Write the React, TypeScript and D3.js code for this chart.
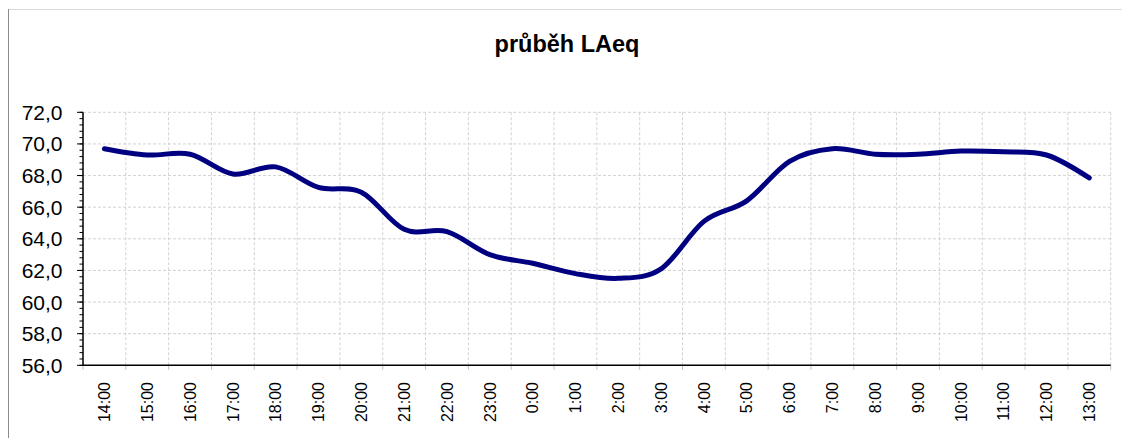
import React from "react";
import * as d3 from "d3";

const title = "průběh LAeq";
const categories = [
  "14:00", "15:00", "16:00", "17:00", "18:00", "19:00", "20:00", "21:00",
  "22:00", "23:00", "0:00", "1:00", "2:00", "3:00", "4:00", "5:00",
  "6:00", "7:00", "8:00", "9:00", "10:00", "11:00", "12:00", "13:00",
];
const laeq = [
  69.7, 69.3, 69.35, 68.1, 68.55, 67.25, 66.95, 64.6,
  64.45, 63.0, 62.45, 61.8, 61.5, 62.1, 65.1, 66.4,
  68.9, 69.7, 69.35, 69.35, 69.55, 69.5, 69.3, 67.85,
];
const yTicks = [56, 58, 60, 62, 64, 66, 68, 70, 72];
const yDomain = [56, 72];

const W = 1122;
const H = 438;
const plot = { left: 83, right: 1110.7, top: 112.3, bottom: 365.3 };

export default function App() {
  const x = d3
    .scaleBand<string>()
    .domain(categories)
    .range([plot.left, plot.right])
    .paddingInner(0)
    .paddingOuter(0);
  const y = d3.scaleLinear().domain(yDomain).range([plot.bottom, plot.top]);
  const bw = x.bandwidth();

  const line = d3
    .line<number>()
    .x((_, i) => (x(categories[i]) as number) + bw / 2)
    .y((d) => y(d))
    .curve(d3.curveCardinal.tension(0));

  const minorTicks = d3.range(yDomain[0], yDomain[1] + 0.001, 0.4);
  const boundaries = categories.map((c) => x(c) as number).concat([plot.right]);
  const fmt = (v: number) => v.toFixed(1).replace(".", ",");

  return (
    <svg
      width={W}
      height={H}
      style={{ position: "absolute", left: 0, top: 0, background: "#fff" }}
      fontFamily="Arial, 'Liberation Sans', sans-serif"
    >
      <rect x={0} y={0} width={W} height={H} fill="#fff" />
      {/* chart frame */}
      <line x1={8} y1={9.5} x2={W} y2={9.5} stroke="#d9d9d9" strokeWidth={1} />
      <line x1={8.5} y1={9} x2={8.5} y2={H} stroke="#8c8c8c" strokeWidth={1} />

      {/* title */}
      <text x={567} y={51.5} textAnchor="middle" fontSize={23.5} fontWeight="bold" fill="#000">
        {title}
      </text>

      {/* horizontal gridlines */}
      {yTicks.map((t) => (
        <line
          key={"hg" + t}
          x1={plot.left}
          x2={plot.right}
          y1={y(t)}
          y2={y(t)}
          stroke="#d2d2d2"
          strokeWidth={1}
          strokeDasharray="3,2"
        />
      ))}
      {/* vertical gridlines */}
      {boundaries.map((bx, i) => (
        <line
          key={"vg" + i}
          x1={bx}
          x2={bx}
          y1={plot.top}
          y2={plot.bottom}
          stroke="#d2d2d2"
          strokeWidth={1}
          strokeDasharray="3,2"
        />
      ))}
      {/* x ticks */}
      {boundaries.map((bx, i) => (
        <line
          key={"xt" + i}
          x1={bx}
          x2={bx}
          y1={plot.bottom}
          y2={plot.bottom + 4.5}
          stroke="#c0c0c0"
          strokeWidth={1}
        />
      ))}
      {/* y minor ticks */}
      {minorTicks.map((t, i) => (
        <line
          key={"ym" + i}
          x1={plot.left - 3.5}
          x2={plot.left}
          y1={y(t)}
          y2={y(t)}
          stroke="#000"
          strokeWidth={1}
        />
      ))}
      {/* y major ticks */}
      {yTicks.map((t) => (
        <line
          key={"yM" + t}
          x1={plot.left - 6}
          x2={plot.left}
          y1={y(t)}
          y2={y(t)}
          stroke="#000"
          strokeWidth={1}
        />
      ))}
      {/* axes */}
      <line x1={plot.left} x2={plot.left} y1={plot.top} y2={plot.bottom} stroke="#000" strokeWidth={1.5} />
      <line x1={plot.left} x2={plot.right} y1={plot.bottom} y2={plot.bottom} stroke="#000" strokeWidth={1.5} />

      {/* y labels */}
      {yTicks.map((t) => (
        <text
          key={"yl" + t}
          x={62.5}
          y={y(t)}
          dy="0.36em"
          textAnchor="end"
          fontSize={21}
          fill="#000"
        >
          {fmt(t)}
        </text>
      ))}

      {/* x labels */}
      {categories.map((c) => {
        const cx = (x(c) as number) + bw / 2;
        const ty = 382;
        return (
          <text
            key={"xl" + c}
            transform={`translate(${cx},${ty}) rotate(-90)`}
            dy="0.36em"
            textAnchor="end"
            fontSize={16}
            fill="#000"
          >
            {c}
          </text>
        );
      })}

      {/* data line */}
      <path
        d={line(laeq) || ""}
        fill="none"
        stroke="#000080"
        strokeWidth={5}
        strokeLinecap="round"
        strokeLinejoin="round"
      />
    </svg>
  );
}
